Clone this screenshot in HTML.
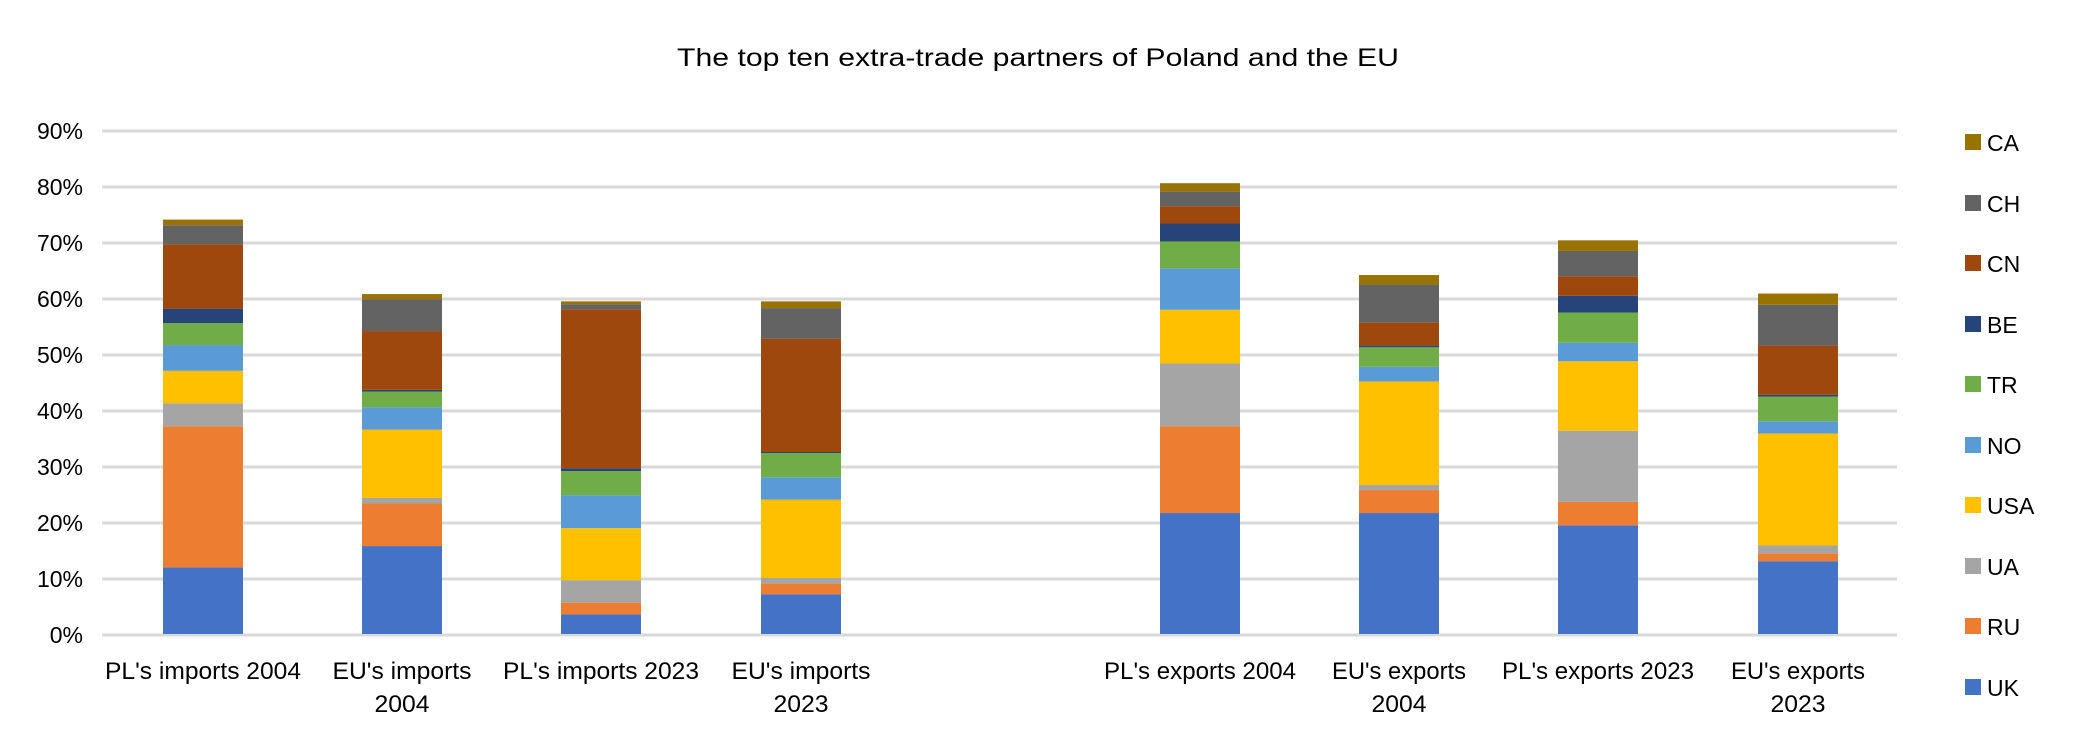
<!DOCTYPE html>
<html><head><meta charset="utf-8"><style>
html,body{margin:0;padding:0;background:#fff;}
svg{display:block;font-family:"Liberation Sans",sans-serif;}
</style></head><body>
<svg width="2079" height="749" viewBox="0 0 2079 749" xmlns="http://www.w3.org/2000/svg">
<rect width="2079" height="749" fill="#fff"/>
<text x="1038" y="66" font-size="25" text-anchor="middle" textLength="722" lengthAdjust="spacingAndGlyphs">The top ten extra-trade partners of Poland and the EU</text>
<g stroke="#d9d9d9" stroke-width="3">
<line x1="102" x2="1897" y1="131" y2="131"/><line x1="102" x2="1897" y1="187" y2="187"/>
<line x1="102" x2="1897" y1="243" y2="243"/><line x1="102" x2="1897" y1="299" y2="299"/>
<line x1="102" x2="1897" y1="355" y2="355"/><line x1="102" x2="1897" y1="411" y2="411"/>
<line x1="102" x2="1897" y1="467" y2="467"/><line x1="102" x2="1897" y1="523" y2="523"/>
<line x1="102" x2="1897" y1="579" y2="579"/><line x1="102" x2="1897" y1="635" y2="635"/>
</g>
<g font-size="23" text-anchor="end">
<text x="83" y="139">90%</text><text x="83" y="195">80%</text><text x="83" y="251">70%</text>
<text x="83" y="307">60%</text><text x="83" y="363">50%</text><text x="83" y="419">40%</text>
<text x="83" y="475">30%</text><text x="83" y="531">20%</text><text x="83" y="587">10%</text>
<text x="83" y="643">0%</text>
</g>
<g transform="translate(0,634) scale(1,-5.6)">
<g transform="translate(163,0)">
<rect width="80" y="0" height="11.9" fill="#4472C4"/><rect width="80" y="11.9" height="25.2" fill="#ED7D31"/>
<rect width="80" y="37.1" height="4.1" fill="#A5A5A5"/><rect width="80" y="41.2" height="5.8" fill="#FFC000"/>
<rect width="80" y="47" height="4.6" fill="#5B9BD5"/><rect width="80" y="51.6" height="3.9" fill="#70AD47"/>
<rect width="80" y="55.5" height="2.6" fill="#264478"/><rect width="80" y="58.1" height="11.5" fill="#9E480E"/>
<rect width="80" y="69.6" height="3.4" fill="#636363"/><rect width="80" y="73" height="1" fill="#997300"/>
</g>
<g transform="translate(362,0)">
<rect width="80" y="0" height="15.7" fill="#4472C4"/><rect width="80" y="15.7" height="7.6" fill="#ED7D31"/>
<rect width="80" y="23.3" height="1" fill="#A5A5A5"/><rect width="80" y="24.3" height="12.2" fill="#FFC000"/>
<rect width="80" y="36.5" height="4" fill="#5B9BD5"/><rect width="80" y="40.5" height="2.8" fill="#70AD47"/>
<rect width="80" y="43.3" height="0.3" fill="#264478"/><rect width="80" y="43.6" height="10.5" fill="#9E480E"/>
<rect width="80" y="54.1" height="5.7" fill="#636363"/><rect width="80" y="59.8" height="0.9" fill="#997300"/>
</g>
<g transform="translate(561,0)">
<rect width="80" y="0" height="3.5" fill="#4472C4"/><rect width="80" y="3.5" height="2.1" fill="#ED7D31"/>
<rect width="80" y="5.6" height="4" fill="#A5A5A5"/><rect width="80" y="9.6" height="9.3" fill="#FFC000"/>
<rect width="80" y="18.9" height="5.9" fill="#5B9BD5"/><rect width="80" y="24.8" height="4.3" fill="#70AD47"/>
<rect width="80" y="29.1" height="0.5" fill="#264478"/><rect width="80" y="29.6" height="28.4" fill="#9E480E"/>
<rect width="80" y="58" height="0.9" fill="#636363"/><rect width="80" y="58.9" height="0.5" fill="#997300"/>
</g>
<g transform="translate(761,0)">
<rect width="80" y="0" height="7.1" fill="#4472C4"/><rect width="80" y="7.1" height="1.9" fill="#ED7D31"/>
<rect width="80" y="9" height="1" fill="#A5A5A5"/><rect width="80" y="10" height="14" fill="#FFC000"/>
<rect width="80" y="24" height="4" fill="#5B9BD5"/><rect width="80" y="28" height="4.3" fill="#70AD47"/>
<rect width="80" y="32.3" height="0.2" fill="#264478"/><rect width="80" y="32.5" height="20.2" fill="#9E480E"/>
<rect width="80" y="52.7" height="5.5" fill="#636363"/><rect width="80" y="58.2" height="1.2" fill="#997300"/>
</g>
<g transform="translate(1160,0)">
<rect width="80" y="0" height="21.6" fill="#4472C4"/><rect width="80" y="21.6" height="15.5" fill="#ED7D31"/>
<rect width="80" y="37.1" height="11.2" fill="#A5A5A5"/><rect width="80" y="48.3" height="9.6" fill="#FFC000"/>
<rect width="80" y="57.9" height="7.4" fill="#5B9BD5"/><rect width="80" y="65.3" height="4.8" fill="#70AD47"/>
<rect width="80" y="70.1" height="3.2" fill="#264478"/><rect width="80" y="73.3" height="3.1" fill="#9E480E"/>
<rect width="80" y="76.4" height="2.6" fill="#636363"/><rect width="80" y="79" height="1.5" fill="#997300"/>
</g>
<g transform="translate(1359,0)">
<rect width="80" y="0" height="21.6" fill="#4472C4"/><rect width="80" y="21.6" height="4.1" fill="#ED7D31"/>
<rect width="80" y="25.7" height="0.9" fill="#A5A5A5"/><rect width="80" y="26.6" height="18.5" fill="#FFC000"/>
<rect width="80" y="45.1" height="2.6" fill="#5B9BD5"/><rect width="80" y="47.7" height="3.5" fill="#70AD47"/>
<rect width="80" y="51.2" height="0.3" fill="#264478"/><rect width="80" y="51.5" height="4.1" fill="#9E480E"/>
<rect width="80" y="55.6" height="6.8" fill="#636363"/><rect width="80" y="62.4" height="1.7" fill="#997300"/>
</g>
<g transform="translate(1558,0)">
<rect width="80" y="0" height="19.4" fill="#4472C4"/><rect width="80" y="19.4" height="4.2" fill="#ED7D31"/>
<rect width="80" y="23.6" height="12.7" fill="#A5A5A5"/><rect width="80" y="36.3" height="12.4" fill="#FFC000"/>
<rect width="80" y="48.7" height="3.3" fill="#5B9BD5"/><rect width="80" y="52" height="5.4" fill="#70AD47"/>
<rect width="80" y="57.4" height="3" fill="#264478"/><rect width="80" y="60.4" height="3.5" fill="#9E480E"/>
<rect width="80" y="63.9" height="4.5" fill="#636363"/><rect width="80" y="68.4" height="1.9" fill="#997300"/>
</g>
<g transform="translate(1758,0)">
<rect width="80" y="0" height="13" fill="#4472C4"/><rect width="80" y="13" height="1.4" fill="#ED7D31"/>
<rect width="80" y="14.4" height="1.4" fill="#A5A5A5"/><rect width="80" y="15.8" height="20" fill="#FFC000"/>
<rect width="80" y="35.8" height="2.2" fill="#5B9BD5"/><rect width="80" y="38" height="4.4" fill="#70AD47"/>
<rect width="80" y="42.4" height="0.3" fill="#264478"/><rect width="80" y="42.7" height="8.8" fill="#9E480E"/>
<rect width="80" y="51.5" height="7.3" fill="#636363"/><rect width="80" y="58.8" height="2" fill="#997300"/>
</g>
</g>
<g font-size="24" text-anchor="middle">
<text x="203" y="679" textLength="196" lengthAdjust="spacingAndGlyphs">PL's imports 2004</text>
<text x="402" y="679" textLength="139" lengthAdjust="spacingAndGlyphs">EU's imports</text>
<text x="402" y="712" textLength="55" lengthAdjust="spacingAndGlyphs">2004</text>
<text x="601" y="679" textLength="196" lengthAdjust="spacingAndGlyphs">PL's imports 2023</text>
<text x="801" y="679" textLength="139" lengthAdjust="spacingAndGlyphs">EU's imports</text>
<text x="801" y="712" textLength="55" lengthAdjust="spacingAndGlyphs">2023</text>
<text x="1200" y="679" textLength="192" lengthAdjust="spacingAndGlyphs">PL's exports 2004</text>
<text x="1399" y="679" textLength="134" lengthAdjust="spacingAndGlyphs">EU's exports</text>
<text x="1399" y="712" textLength="55" lengthAdjust="spacingAndGlyphs">2004</text>
<text x="1598" y="679" textLength="192" lengthAdjust="spacingAndGlyphs">PL's exports 2023</text>
<text x="1798" y="679" textLength="134" lengthAdjust="spacingAndGlyphs">EU's exports</text>
<text x="1798" y="712" textLength="55" lengthAdjust="spacingAndGlyphs">2023</text>
</g>
<g font-size="23">
<rect x="1965" y="134" width="16" height="16" fill="#997300"/><text x="1987" y="151">CA</text>
<rect x="1965" y="195" width="16" height="16" fill="#636363"/><text x="1987" y="212">CH</text>
<rect x="1965" y="255" width="16" height="16" fill="#9E480E"/><text x="1987" y="272">CN</text>
<rect x="1965" y="316" width="16" height="16" fill="#264478"/><text x="1987" y="333">BE</text>
<rect x="1965" y="376" width="16" height="16" fill="#70AD47"/><text x="1987" y="393">TR</text>
<rect x="1965" y="437" width="16" height="16" fill="#5B9BD5"/><text x="1987" y="454">NO</text>
<rect x="1965" y="497" width="16" height="16" fill="#FFC000"/><text x="1987" y="514">USA</text>
<rect x="1965" y="558" width="16" height="16" fill="#A5A5A5"/><text x="1987" y="575">UA</text>
<rect x="1965" y="618" width="16" height="16" fill="#ED7D31"/><text x="1987" y="635">RU</text>
<rect x="1965" y="679" width="16" height="16" fill="#4472C4"/><text x="1987" y="696">UK</text>
</g>
</svg>
</body></html>
